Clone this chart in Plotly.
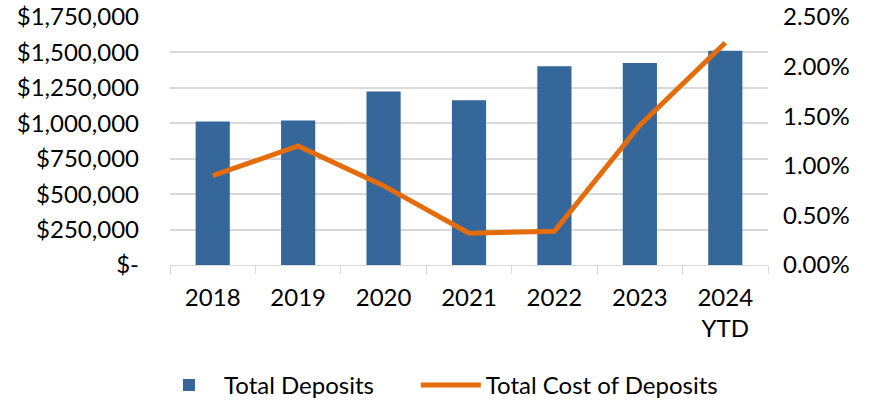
import plotly.graph_objects as go

# Data
years = ["2018", "2019", "2020", "2021", "2022", "2023", "2024<br>YTD"]
total_deposits = [1013000, 1020000, 1225000, 1163000, 1402000, 1426000, 1511000]
cost_of_deposits = [0.0090, 0.0120, 0.0080, 0.0032, 0.0034, 0.0141, 0.0224]

left_ticks = [0, 250000, 500000, 750000, 1000000, 1250000, 1500000, 1750000]
left_labels = ["$-", "$250,000", "$500,000", "$750,000", "$1,000,000",
               "$1,250,000", "$1,500,000", "$1,750,000"]

font = dict(family="Lato, 'Open Sans', sans-serif", size=24, color="#000000")

fig = go.Figure()
fig.add_trace(go.Bar(
    x=years, y=total_deposits, name="Total Deposits" + "\u00a0" * 6,
    marker=dict(color="#35679A", line=dict(width=0)),
    width=0.4,
))
fig.add_trace(go.Scatter(
    x=years, y=cost_of_deposits, name="Total Cost of Deposits",
    mode="lines", line=dict(color="#E46C0A", width=5),
    yaxis="y2",
))

fig.update_layout(
    width=877, height=401,
    margin=dict(l=170, r=109, t=17, b=136),
    paper_bgcolor="white", plot_bgcolor="white",
    font=font,
    showlegend=True,
    legend=dict(orientation="h", x=0.5, xanchor="center", xref="container",
                y=0.095, yanchor="top", yref="container",
                font=dict(size=24), itemwidth=60, traceorder="normal"),
    xaxis=dict(
        showgrid=False, showline=True, linecolor="#D9D9D9", linewidth=1,
        ticks="outside", tickson="boundaries", ticklen=8, tickcolor="#D9D9D9",
        ticklabelstandoff=11, automargin=False,
    ),
    yaxis=dict(
        range=[0, 1750000], tickvals=left_ticks, ticktext=left_labels,
        showgrid=True, gridcolor="#D9D9D9", gridwidth=1.5,
        zeroline=False, showline=False, ticklabelstandoff=30, automargin=False,
    ),
    yaxis2=dict(
        range=[0, 0.025], dtick=0.005, tickformat=".2%", overlaying="y",
        side="right", showgrid=False, zeroline=False, showline=False,
        ticklabelstandoff=14, automargin=False,
    ),
)

fig.write_html("out.html", config={"displayModeBar": False},
               post_script="document.body.style.margin='0';")
